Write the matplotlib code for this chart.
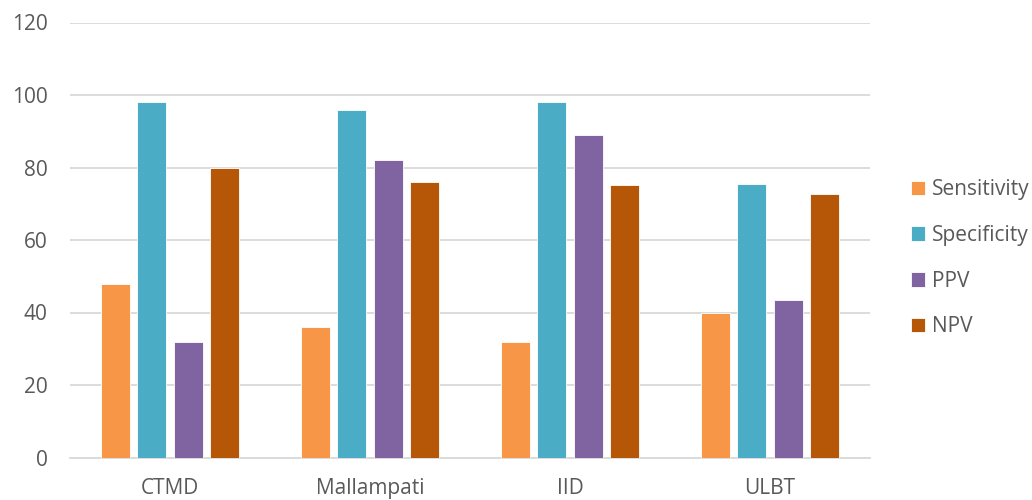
import numpy as np
import matplotlib.pyplot as plt

categories = ["CTMD", "Mallampati", "IID", "ULBT"]
sensitivity = [48, 36, 32, 40]
specificity = [98, 96, 98, 75.4]
ppv = [32, 82, 89, 43.4]
npv = [80, 76, 75.3, 72.7]

series = ["Sensitivity", "Specificity", "PPV", "NPV"]
colors = ["#F79646", "#4BACC6", "#8064A2", "#B65708"]

plt.rcParams['font.family'] = ['Open Sans', 'DejaVu Sans']
text_color = "#595959"

fig = plt.figure(figsize=(10.32, 5.0), dpi=100)
ax = fig.add_axes([70 / 1032, 42.5 / 500, 800 / 1032, 435 / 500])

x = np.arange(len(categories))
pitch = 0.182
width = 0.145
for i, (name, vals) in enumerate(zip(series, [sensitivity, specificity, ppv, npv])):
    ax.bar(x + (i - 1.5) * pitch, vals, width, color=colors[i], label=name,
           edgecolor="white", linewidth=0.6, zorder=3)

ax.set_xlim(-0.5, 3.5)
ax.set_ylim(0, 120)
ax.set_yticks(range(0, 121, 20))
ax.set_xticks(x)
ax.set_xticklabels(categories)
ax.grid(axis="y", color="#D9D9D9", linewidth=1.3, zorder=0)
ax.tick_params(axis="both", length=0, labelsize=15, labelcolor=text_color)
ax.tick_params(axis="y", pad=16)
ax.tick_params(axis="x", pad=15)
for s in ["top", "right", "left"]:
    ax.spines[s].set_visible(False)
ax.spines["bottom"].set_color("#D9D9D9")
ax.spines["bottom"].set_linewidth(1.3)

leg = ax.legend(loc="center left", bbox_to_anchor=(1.051, 0.458), frameon=False,
                fontsize=15, labelcolor=text_color, handlelength=0.68,
                handleheight=0.68, handletextpad=0.34, labelspacing=1.19,
                borderaxespad=0, borderpad=0)

fig.savefig("out.png", dpi=100)
